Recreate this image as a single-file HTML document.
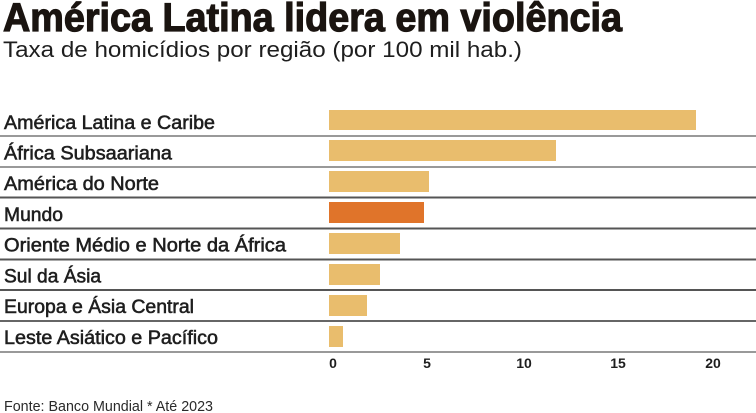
<!DOCTYPE html>
<html>
<head>
<meta charset="utf-8">
<style>
html,body{margin:0;padding:0;background:#fff;}
svg{display:block;}
text{font-family:"Liberation Sans",sans-serif;}
</style>
</head>
<body>
<svg width="756" height="413" viewBox="0 0 756 413" xmlns="http://www.w3.org/2000/svg">
<rect width="756" height="413" fill="#fff"/>
<text x="3" y="31" font-size="40" font-weight="bold" fill="#1a1410" stroke="#1a1410" stroke-width="1.2" textLength="619" lengthAdjust="spacingAndGlyphs">América Latina lidera em violência</text>
<text x="3" y="57" font-size="22" fill="#1e1e1e" textLength="519" lengthAdjust="spacingAndGlyphs">Taxa de homicídios por região (por 100 mil hab.)</text>

<g fill="#e9bd6d">
<rect x="329" y="110" width="367" height="20"/>
<rect x="329" y="140" width="227" height="21"/>
<rect x="329" y="171" width="100" height="21"/>
<rect x="329" y="233" width="71" height="21"/>
<rect x="329" y="264" width="51" height="21"/>
<rect x="329" y="295" width="38" height="21"/>
<rect x="329" y="326" width="14" height="21"/>
</g>
<rect x="329" y="202" width="95" height="21" fill="#e0742a"/>

<g stroke-width="2">
<line x1="0" y1="136" x2="756" y2="136" stroke="#999"/>
<line x1="0" y1="167" x2="756" y2="167" stroke="#999"/>
<line x1="0" y1="197.5" x2="756" y2="197.5" stroke="#555"/>
<line x1="0" y1="228.5" x2="756" y2="228.5" stroke="#555"/>
<line x1="0" y1="259.5" x2="756" y2="259.5" stroke="#555"/>
<line x1="0" y1="290" x2="756" y2="290" stroke="#555"/>
<line x1="0" y1="321" x2="756" y2="321" stroke="#666"/>
<line x1="0" y1="352" x2="756" y2="352" stroke="#999"/>
</g>

<g font-size="19" fill="#1e1e1e" stroke="#1e1e1e" stroke-width="0.55">
<text x="4" y="129" textLength="211" lengthAdjust="spacingAndGlyphs">América Latina e Caribe</text>
<text x="4" y="159.5" textLength="168" lengthAdjust="spacingAndGlyphs">África Subsaariana</text>
<text x="4" y="190" textLength="155" lengthAdjust="spacingAndGlyphs">América do Norte</text>
<text x="4" y="221" textLength="59" lengthAdjust="spacingAndGlyphs">Mundo</text>
<text x="4" y="251.5" textLength="282" lengthAdjust="spacingAndGlyphs">Oriente Médio e Norte da África</text>
<text x="4" y="282.5" textLength="97" lengthAdjust="spacingAndGlyphs">Sul da Ásia</text>
<text x="4" y="313" textLength="190" lengthAdjust="spacingAndGlyphs">Europa e Ásia Central</text>
<text x="4" y="344" textLength="214" lengthAdjust="spacingAndGlyphs">Leste Asiático e Pacífico</text>
</g>

<g font-size="14" font-weight="bold" fill="#1e1e1e" text-anchor="middle">
<text x="333" y="368">0</text>
<text x="427" y="368">5</text>
<text x="524" y="368">10</text>
<text x="618" y="368">15</text>
<text x="713" y="368">20</text>
</g>

<text x="4" y="411" font-size="15" fill="#2a2a2a" textLength="209" lengthAdjust="spacingAndGlyphs">Fonte: Banco Mundial * Até 2023</text>
</svg>
</body>
</html>
